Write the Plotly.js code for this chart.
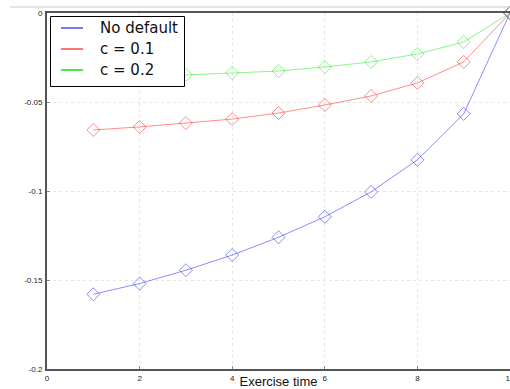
<!DOCTYPE html>
<html>
<head>
<meta charset="utf-8">
<script src="https://cdn.plot.ly/plotly-3.0.1.min.js"></script>
<style>html,body{margin:0;padding:0;background:#fff;}#chart{width:510px;height:389px;}</style>
</head>
<body>
<div id="chart"></div>
<script>
const exerciseTimes = [1, 2, 3, 4, 5, 6, 7, 8, 9, 10];
const noDefault = [-0.158, -0.152, -0.1445, -0.136, -0.126, -0.1145, -0.1005, -0.0825, -0.0567, 0];
const c01 = [-0.0657, -0.064, -0.0618, -0.0596, -0.0562, -0.0517, -0.0466, -0.0393, -0.0275, 0];
const c02 = [-0.0362, -0.0356, -0.0348, -0.0337, -0.0326, -0.0303, -0.0275, -0.023, -0.0163, 0];
const seriesNames = ["No default", "c = 0.1", "c = 0.2"];
const xTickVals = [0, 2, 4, 6, 8, 10];
const xTickText = ["0", "2", "4", "6", "8", "10"];
const yTickVals = [0, -0.05, -0.1, -0.15, -0.2];
const yTickText = ["0", "-0.05", "-0.1", "-0.15", "-0.2"];

const plotColors = ["rgba(0,0,255,0.45)", "rgba(255,0,0,0.45)", "rgba(0,230,0,0.45)"];
const legendColors = ["rgba(40,40,255,0.85)", "rgba(255,40,40,0.85)", "rgba(0,220,0,0.95)"];
const series = [noDefault, c01, c02];

const traces = series.map((ys, i) => ({
  x: exerciseTimes, y: ys, type: "scatter", mode: "lines+markers", name: seriesNames[i],
  line: {color: plotColors[i], width: 1},
  marker: {symbol: "diamond-open", size: 10, color: plotColors[i], line: {width: 1}},
  showlegend: false, hoverinfo: "skip", cliponaxis: false
}));

const L = 47, T = 13, W = 463, H = 356;
const px = v => (v - L) / W;
const py = v => 1 - (v - T) / H;

const shapes = [{
  type: "line", xref: "paper", yref: "paper",
  x0: px(10), x1: 1.05, y0: py(7), y1: py(7),
  line: {color: "#c8c8c8", width: 1}
}, {
  type: "rect", xref: "paper", yref: "paper",
  x0: px(50.5), x1: px(184.5), y0: py(16.5), y1: py(86.5),
  fillcolor: "#fff", line: {color: "#000", width: 1}, layer: "above"
}];
const annotations = [];
const rowY = [28, 49, 70];
seriesNames.forEach((name, i) => {
  shapes.push({
    type: "line", xref: "paper", yref: "paper",
    x0: px(61), x1: px(83), y0: py(rowY[i]), y1: py(rowY[i]),
    line: {color: legendColors[i], width: 1.5}, layer: "above"
  });
  annotations.push({
    xref: "paper", yref: "paper", x: px(98), y: py(rowY[i]),
    xanchor: "left", yanchor: "middle", showarrow: false, text: name,
    font: {family: "DejaVu Sans", size: 15, color: "#111"}
  });
});

const layout = {
  width: 510, height: 389,
  margin: {l: L, r: 510 - L - W, t: T, b: 389 - T - H, pad: 0},
  paper_bgcolor: "#fff", plot_bgcolor: "#fff",
  font: {family: "Liberation Sans, Arial, sans-serif", color: "#222"},
  showlegend: false,
  xaxis: {
    range: [0, 10], tickvals: xTickVals, ticktext: xTickText,
    showgrid: true, gridcolor: "#e6e6e6", griddash: "dot", gridwidth: 1,
    zeroline: false, showline: true, linecolor: "#555", linewidth: 2, mirror: true,
    ticks: "inside", ticklen: 3, tickcolor: "#888",
    tickfont: {size: 8, color: "#222"}, ticklabelstandoff: 0, ticklabeloverflow: "allow",
    title: {text: "Exercise time", font: {size: 13, color: "#111"}, standoff: 0},
    automargin: false
  },
  yaxis: {
    range: [-0.2, 0], tickvals: yTickVals, ticktext: yTickText,
    showgrid: true, gridcolor: "#e6e6e6", griddash: "dot", gridwidth: 1,
    zeroline: false, showline: true, linecolor: "#555", linewidth: 2, mirror: false,
    ticks: "inside", ticklen: 3, tickcolor: "#888",
    tickfont: {size: 8, color: "#222"}, ticklabelstandoff: 1,
    automargin: false
  },
  shapes: shapes,
  annotations: annotations
};

Plotly.newPlot("chart", traces, layout, {displayModeBar: false, staticPlot: true});
</script>
</body>
</html>
